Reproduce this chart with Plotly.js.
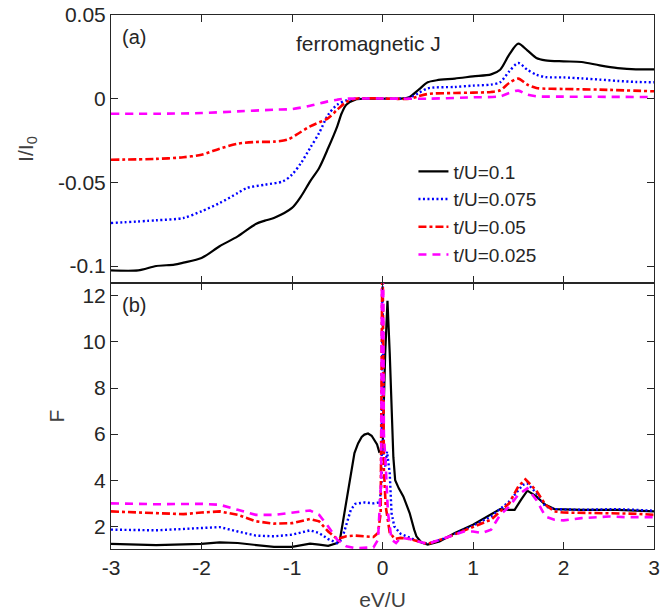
<!DOCTYPE html>
<html>
<head>
<meta charset="utf-8">
<script src="https://cdn.plot.ly/plotly-3.0.1.min.js"></script>
<style>html,body{margin:0;padding:0;background:#fff;}#chart{width:670px;height:612px;}</style>
</head>
<body>
<div id="chart"></div>
<script>
// ---- Series labels ----
const seriesNames = ['t/U=0.1', 't/U=0.075', 't/U=0.05', 't/U=0.025'];

// ---- Panel (a): current I/I0 vs eV/U ----
const xI_01 = [-3,-2.7,-2.5,-2.3,-2.2,-2.0,-1.8,-1.6,-1.4,-1.3,-1.2,-1.0,-0.9,-0.8,-0.7,-0.6,-0.5,-0.45,-0.4,-0.3,-0.2,0,0.2,0.3,0.4,0.5,0.6,0.8,1.0,1.2,1.3,1.4,1.5,1.6,1.7,1.8,2.0,2.2,2.4,2.6,2.8,3.0];
const yI_01 = [-0.1026,-0.1026,-0.100,-0.0992,-0.098,-0.0952,-0.0882,-0.0823,-0.0749,-0.0729,-0.0713,-0.0653,-0.0584,-0.0494,-0.0414,-0.0295,-0.0165,-0.0086,-0.0036,-0.0006,0,0,0,0.001,0.0054,0.0098,0.011,0.012,0.0133,0.0145,0.0173,0.0263,0.0329,0.0289,0.0243,0.0229,0.0223,0.0219,0.0199,0.0183,0.0175,0.0175];

const xI_0075 = [-3,-2.5,-2.2,-2.0,-1.8,-1.6,-1.5,-1.3,-1.1,-1.0,-0.9,-0.8,-0.7,-0.6,-0.5,-0.4,-0.3,0,0.3,0.4,0.5,0.8,1.0,1.2,1.3,1.4,1.5,1.6,1.7,1.8,2.0,2.2,2.4,2.6,2.8,3.0];
const yI_0075 = [-0.0743,-0.0727,-0.0713,-0.0673,-0.0624,-0.0564,-0.0534,-0.0514,-0.0494,-0.0454,-0.0384,-0.0295,-0.0205,-0.0096,-0.0036,-0.001,0,0,0.0006,0.0034,0.0062,0.007,0.0078,0.0084,0.0098,0.0163,0.0213,0.0173,0.0143,0.0129,0.0127,0.0121,0.0114,0.0106,0.01,0.0098];

const xI_005 = [-3,-2.5,-2.2,-2.0,-1.8,-1.6,-1.4,-1.2,-1.05,-0.95,-0.8,-0.6,-0.5,-0.4,-0.3,0.3,0.4,0.5,0.8,1.0,1.2,1.3,1.4,1.5,1.6,1.7,2.0,2.4,3.0];
const yI_005 = [-0.0365,-0.036,-0.035,-0.0335,-0.0299,-0.0269,-0.0259,-0.0257,-0.0245,-0.0215,-0.0165,-0.0116,-0.0066,-0.002,0,0,0.0014,0.0028,0.0034,0.0036,0.004,0.005,0.0094,0.012,0.0084,0.0064,0.0058,0.0054,0.0044];

const xI_0025 = [-3,-2.5,-2.0,-1.6,-1.2,-1.0,-0.8,-0.6,-0.5,-0.4,0.5,1.0,1.3,1.4,1.5,1.6,1.7,2.0,3.0];
const yI_0025 = [-0.009,-0.009,-0.0086,-0.0076,-0.0066,-0.0062,-0.0042,-0.0016,-0.0006,0,0,0.0008,0.0014,0.0034,0.0048,0.0024,0.0014,0.0012,0.001];

// ---- Panel (b): Fano factor F vs eV/U ----
const xF_01 = [-3,-2.5,-2.0,-1.8,-1.6,-1.4,-1.2,-1.0,-0.8,-0.7,-0.6,-0.5,-0.47,-0.45,-0.42,-0.39,-0.36,-0.33,-0.31,-0.27,-0.23,-0.2,-0.16,-0.12,-0.085,-0.06,-0.037,0.0,0.03,0.055,0.08,0.1,0.12,0.14,0.18,0.23,0.3,0.35,0.375,0.43,0.5,0.63,0.8,1.0,1.2,1.3,1.4,1.46,1.53,1.6,1.7,1.8,1.9,2.2,2.6,3.0];
const yF_01 = [1.24,1.19,1.24,1.31,1.28,1.18,1.11,1.11,1.25,1.21,1.16,1.28,1.43,1.9,2.6,3.35,4.0,4.7,5.18,5.6,5.88,5.98,6.03,5.93,5.74,5.55,5.24,5.3,9.5,11.78,9.5,6.9,5.0,4.0,3.65,3.3,2.58,1.86,1.57,1.3,1.21,1.35,1.71,2.07,2.5,2.75,2.72,2.72,3.15,3.55,3.3,2.94,2.75,2.72,2.72,2.65];

const xF_0075 = [-3,-2.5,-2.0,-1.8,-1.6,-1.4,-1.2,-1.0,-0.8,-0.7,-0.6,-0.5,-0.45,-0.4,-0.35,-0.3,-0.2,-0.1,-0.03,-0.01,0,0.01,0.03,0.05,0.08,0.1,0.13,0.2,0.3,0.4,0.5,0.7,1.0,1.2,1.4,1.55,1.6,1.7,1.8,1.9,2.2,2.6,3.0];
const yF_0075 = [1.86,1.83,1.93,1.97,1.78,1.6,1.57,1.64,1.83,1.71,1.45,1.28,1.42,2.07,2.72,2.98,3.04,3.0,3.04,4.0,14,5.0,4.6,5.24,4.3,2.58,2.0,1.68,1.5,1.35,1.25,1.5,2.03,2.43,3.08,3.8,3.87,3.44,2.86,2.75,2.72,2.75,2.68];

const xF_005 = [-3,-2.5,-2.2,-2.0,-1.8,-1.6,-1.4,-1.2,-1.0,-0.8,-0.7,-0.6,-0.5,-0.4,-0.3,-0.2,-0.1,-0.05,-0.02,0,0.015,0.036,0.08,0.135,0.2,0.3,0.4,0.5,0.7,1.0,1.2,1.4,1.5,1.58,1.7,1.8,1.9,2.0,2.4,2.8,3.0];
const yF_005 = [2.65,2.58,2.53,2.6,2.65,2.5,2.22,2.12,2.14,2.32,2.22,1.78,1.45,1.57,1.6,1.57,1.54,1.71,2.58,15,4.5,2.86,1.73,1.46,1.5,1.45,1.35,1.24,1.5,1.97,2.29,3.0,3.73,4.04,3.55,2.94,2.65,2.6,2.58,2.55,2.5];

const xF_0025 = [-3,-2.5,-2.0,-1.8,-1.6,-1.4,-1.2,-1.0,-0.8,-0.7,-0.6,-0.5,-0.4,-0.3,-0.2,-0.1,-0.05,-0.015,0,0.015,0.036,0.06,0.1,0.15,0.2,0.3,0.5,0.7,0.9,1.0,1.1,1.2,1.3,1.4,1.5,1.6,1.7,1.8,1.9,2.0,2.2,2.5,2.7,3.0];
const yF_0025 = [3.0,2.96,2.98,2.94,2.72,2.5,2.5,2.58,2.69,2.5,2.0,1.42,1.14,1.06,1.06,1.09,1.42,4.0,20,6,4.6,2.6,1.43,1.28,1.5,1.45,1.24,1.5,1.78,1.78,1.71,1.86,2.5,2.86,3.37,3.65,3.15,2.43,2.29,2.26,2.36,2.43,2.4,2.4];

// ---- Tick labels ----
const xTickVals = [-3,-2,-1,0,1,2,3];
const xTickText = ['-3','-2','-1','0','1','2','3'];
const yITickVals = [-0.1,-0.05,0,0.05];
const yITickText = ['-0.1','-0.05','0','0.05'];
const yFTickVals = [2,4,6,8,10,12];
const yFTickText = ['2','4','6','8','10','12'];

// ---- Styles ----
const styles = [
  {color:'#000000', width:2.2, dash:'solid'},
  {color:'#0000FF', width:2.4, dash:'2px,2.5px'},
  {color:'#FF0000', width:2.6, dash:'8px,3px,3px,3px'},
  {color:'#FF00FF', width:2.6, dash:'8px,6px'}
];

const Ixs = [xI_01, xI_0075, xI_005, xI_0025];
const Iys = [yI_01, yI_0075, yI_005, yI_0025];
const Fxs = [xF_01, xF_0075, xF_005, xF_0025];
const Fys = [yF_01, yF_0075, yF_005, yF_0025];

const traces = [];
for (let i = 0; i < 4; i++) {
  traces.push({
    x: Ixs[i], y: Iys[i], type:'scatter', mode:'lines', name: seriesNames[i],
    xaxis:'x', yaxis:'y', showlegend:true,
    line:{color:styles[i].color, width:styles[i].width, dash:styles[i].dash, shape:'spline', smoothing:0.8}
  });
}
for (let i = 0; i < 4; i++) {
  traces.push({
    x: Fxs[i], y: Fys[i], type:'scatter', mode:'lines', name: seriesNames[i],
    xaxis:'x2', yaxis:'y2', showlegend:false,
    line:{color:styles[i].color, width:styles[i].width, dash:styles[i].dash}
  });
}

const fontFam = 'Liberation Sans, Arial, Helvetica, sans-serif';
const axCommon = {
  showline:true, linecolor:'#262626', linewidth:1, mirror:'ticks',
  ticks:'inside', ticklen:7, tickwidth:1, tickcolor:'#262626',
  showgrid:false, zeroline:false,
  tickfont:{family:fontFam, size:21, color:'#262626'}
};

const layout = {
  width:670, height:612,
  margin:{l:111, r:16, t:15, b:63},
  paper_bgcolor:'#ffffff', plot_bgcolor:'#ffffff',
  font:{family:fontFam, color:'#262626'},
  showlegend:true,
  legend:{x:0.557, y:0.7425, xanchor:'left', yanchor:'top', bgcolor:'rgba(0,0,0,0)',
          borderwidth:0, font:{family:fontFam, size:19, color:'#262626'}, tracegroupgap:0},
  xaxis: Object.assign({}, axCommon, {domain:[0,1], anchor:'y', range:[-3,3],
          tickvals:xTickVals, ticktext:xTickText, showticklabels:false, matches:'x2'}),
  yaxis: Object.assign({}, axCommon, {domain:[0.498,1], anchor:'x', range:[-0.1102,0.05],
          tickvals:yITickVals, ticktext:yITickText,
          title:{text:'I/I<sub>0</sub>', font:{family:fontFam, size:21, color:'#404040'}, standoff:18}}),
  xaxis2: Object.assign({}, axCommon, {domain:[0,1], anchor:'y2', range:[-3,3],
          tickvals:xTickVals, ticktext:xTickText,
          title:{text:'eV/U', font:{family:fontFam, size:21, color:'#404040'}, standoff:14}}),
  yaxis2: Object.assign({}, axCommon, {domain:[0,0.498], anchor:'x2', range:[1.02,12.55],
          tickvals:yFTickVals, ticktext:yFTickText,
          title:{text:'F', font:{family:fontFam, size:21, color:'#404040'}, standoff:12}}),
  annotations:[
    {text:'(a)', xref:'x', yref:'y', x:-2.75, y:0.0369, showarrow:false,
     font:{family:fontFam, size:20, color:'#262626'}},
    {text:'ferromagnetic J', xref:'x', yref:'y', x:-0.15, y:0.0327, showarrow:false,
     font:{family:fontFam, size:21, color:'#262626'}},
    {text:'(b)', xref:'x2', yref:'y2', x:-2.75, y:11.6, showarrow:false,
     font:{family:fontFam, size:20, color:'#262626'}}
  ]
};

Plotly.newPlot('chart', traces, layout, {displayModeBar:false, staticPlot:true});
</script>
</body>
</html>
